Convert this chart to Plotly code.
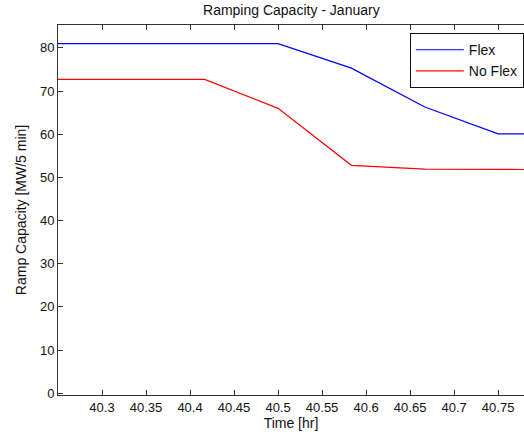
import plotly.graph_objects as go

time_hr = [40.25, 40.3333, 40.4167, 40.5, 40.5833, 40.6667, 40.75, 40.8333]
flex = [81.0, 81.0, 81.0, 81.0, 75.3, 66.3, 60.1, 60.1]
no_flex = [72.7, 72.7, 72.7, 66.0, 52.8, 51.9, 51.8, 51.8]
x_ticks = [40.3, 40.35, 40.4, 40.45, 40.5, 40.55, 40.6, 40.65, 40.7, 40.75]
x_tick_labels = ["40.3", "40.35", "40.4", "40.45", "40.5", "40.55", "40.6", "40.65", "40.7", "40.75"]
y_ticks = [0, 10, 20, 30, 40, 50, 60, 70, 80]

font_family = "Liberation Sans, Arial, sans-serif"
txt = "#111111"

fig = go.Figure()
fig.add_trace(go.Scatter(x=time_hr, y=flex, mode="lines", name="Flex",
                         line=dict(color="#0000ff", width=1.2)))
fig.add_trace(go.Scatter(x=time_hr, y=no_flex, mode="lines", name="No Flex",
                         line=dict(color="#ff0000", width=1.2)))

fig.update_layout(
    width=524, height=437,
    margin=dict(l=58, r=0, t=25, b=42, autoexpand=False),
    paper_bgcolor="white", plot_bgcolor="white",
    font=dict(family=font_family, size=13, color=txt),
    title=dict(text="Ramping Capacity - January", x=0.556, xanchor="center",
               y=1 - 10 / 437, yanchor="middle", yref="container",
               font=dict(size=14, color=txt)),
    showlegend=True,
    legend=dict(x=0.755, y=0.978, xanchor="left", yanchor="top",
                bgcolor="white", bordercolor="#111111", borderwidth=1,
                font=dict(size=14, color=txt), tracegroupgap=0, itemwidth=48),
)
fig.update_xaxes(range=[40.25, 40.7794], tickvals=x_ticks, ticktext=x_tick_labels,
                 ticks="inside", ticklen=5, tickcolor="#333333",
                 tickfont=dict(size=13, color=txt),
                 showline=True, linecolor="#333333", linewidth=1, mirror="ticks",
                 showgrid=False, zeroline=False, automargin=False,
                 title=dict(text="Time [hr]", standoff=4, font=dict(size=14, color=txt)))
fig.update_yaxes(range=[-0.4, 85.3], tickvals=y_ticks,
                 ticks="inside", ticklen=5, tickcolor="#333333",
                 tickfont=dict(size=13, color=txt),
                 showline=True, linecolor="#333333", linewidth=1, mirror=False,
                 showgrid=False, zeroline=False, automargin=False,
                 title=dict(text="Ramp Capacity [MW/5 min]", standoff=10,
                            font=dict(size=14, color=txt)))

fig.write_html("out.html", config={"displayModeBar": False},
               post_script="document.body.style.margin='0';document.body.style.overflow='hidden';")
